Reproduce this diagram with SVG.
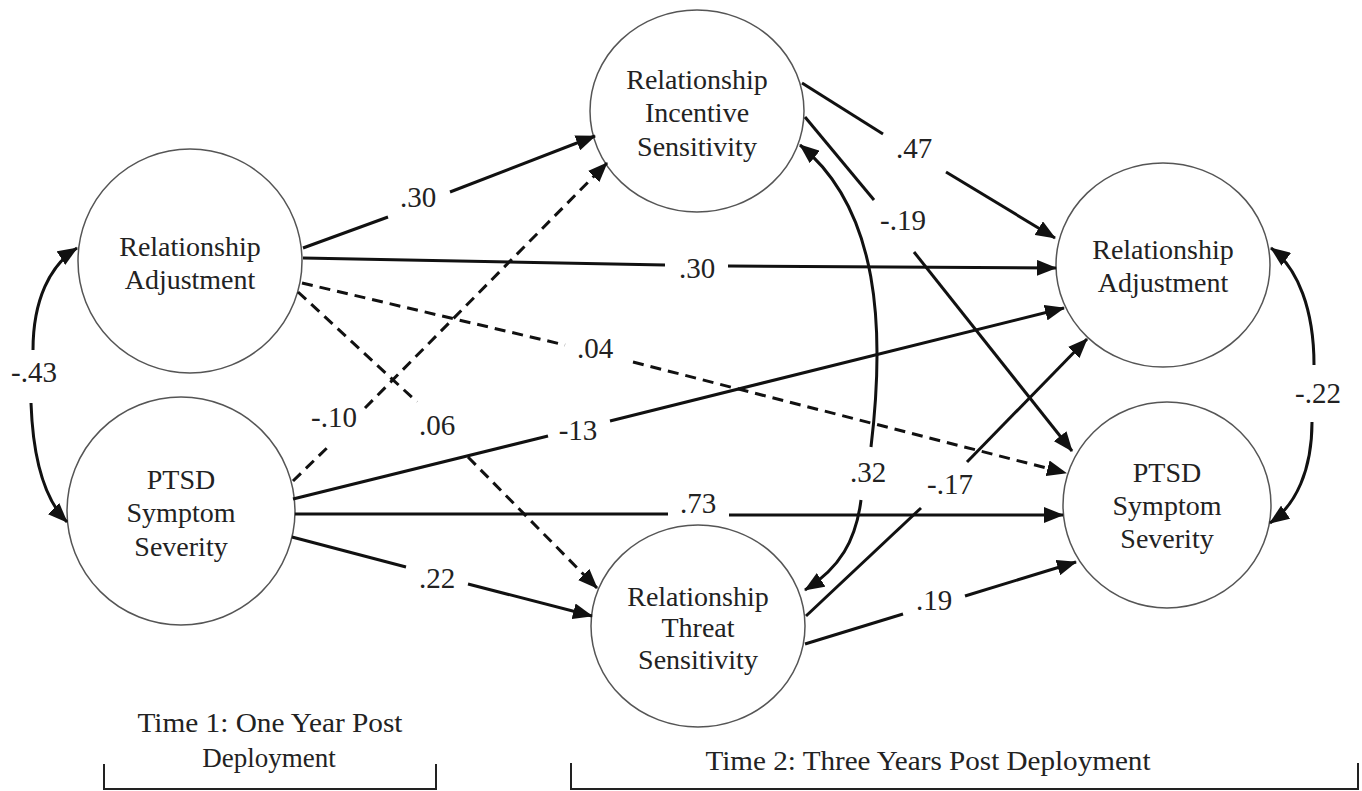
<svg xmlns="http://www.w3.org/2000/svg" width="1362" height="791" viewBox="0 0 1362 791">
<style>
.node{fill:#fff;stroke:#555;stroke-width:1.5}
.nt{font-family:"Liberation Serif","Times New Roman",serif;font-size:28px;fill:#222;text-anchor:middle}
.lb{font-family:"Liberation Serif","Times New Roman",serif;font-size:29px;fill:#222;text-anchor:middle}
.tl{font-family:"Liberation Serif","Times New Roman",serif;font-size:27px;fill:#222;text-anchor:middle}
.s{fill:none;stroke:#111;stroke-width:3}
.d{fill:none;stroke:#111;stroke-width:3;stroke-dasharray:11 7}
.a{marker-end:url(#ah)}
.br{fill:none;stroke:#222;stroke-width:2}
</style>
<defs>
<marker id="ah" markerUnits="userSpaceOnUse" markerWidth="20" markerHeight="16" viewBox="0 0 20 16" refX="19" refY="8" orient="auto">
<path d="M0,0 L20,8 L0,16 z" fill="#111"/>
</marker>
</defs>
<rect width="1362" height="791" fill="#fff"/>

<g id="t1-ra">
<circle class="node" cx="190" cy="261" r="112"/>
<text class="nt" x="190" y="256">Relationship</text>
<text class="nt" x="190" y="289">Adjustment</text>
</g>
<g id="t1-ptsd">
<circle class="node" cx="181" cy="511" r="114"/>
<text class="nt" x="181" y="489">PTSD</text>
<text class="nt" x="181" y="522">Symptom</text>
<text class="nt" x="181" y="556">Severity</text>
</g>
<g id="ris">
<ellipse class="node" cx="697" cy="111" rx="107" ry="101"/>
<text class="nt" x="697" y="89">Relationship</text>
<text class="nt" x="697" y="122">Incentive</text>
<text class="nt" x="697" y="156">Sensitivity</text>
</g>
<g id="rts">
<ellipse class="node" cx="698" cy="626" rx="107" ry="101"/>
<text class="nt" x="698" y="606">Relationship</text>
<text class="nt" x="698" y="637">Threat</text>
<text class="nt" x="698" y="669">Sensitivity</text>
</g>
<g id="t2-ra">
<ellipse class="node" cx="1163" cy="265" rx="107" ry="102"/>
<text class="nt" x="1163" y="259">Relationship</text>
<text class="nt" x="1163" y="292">Adjustment</text>
</g>
<g id="t2-ptsd">
<ellipse class="node" cx="1167" cy="505" rx="104" ry="103"/>
<text class="nt" x="1167" y="482">PTSD</text>
<text class="nt" x="1167" y="515">Symptom</text>
<text class="nt" x="1167" y="548">Severity</text>
</g>

<g id="connectors">
<path class="s" d="M303 248 L388 217"/>
<path class="s a" d="M450 192 L595 136"/>
<path class="d" d="M293 481 L330 445"/>
<path class="d a" d="M365 408 L607 163"/>
<path class="s" d="M303 258 L665 265"/>
<path class="s a" d="M728 266 L1056 268"/>
<path class="d" d="M302 283 L565 345"/>
<path class="d a" d="M633 362 L1066 473"/>
<path class="d" d="M298 292 L417 402"/>
<path class="d a" d="M468 457 L597 588"/>
<path class="s" d="M293 499 L548 436"/>
<path class="s a" d="M610 421 L1064 308"/>
<path class="s" d="M295 514 L668 514"/>
<path class="s a" d="M729 515 L1063 515"/>
<path class="s" d="M292 537 L406 567"/>
<path class="s a" d="M468 584 L592 616"/>
<path class="s" d="M802 83 L883 134"/>
<path class="s a" d="M946 172 L1055 238"/>
<path class="s" d="M805 117 L874 200"/>
<path class="s a" d="M914 252 L1072 451"/>
<path class="s" d="M806 616 L921 508"/>
<path class="s a" d="M967 462 L1087 339"/>
<path class="s" d="M805 644 L903 614"/>
<path class="s a" d="M965 596 L1076 562"/>
<path class="s a" d="M871 447 C885 330 880 210 800 145"/>
<path class="s a" d="M861 500 C856 540 840 568 805 590"/>
<path class="s a" d="M33 350 C33 300 50 265 77 248"/>
<path class="s a" d="M31 403 C33 460 45 500 67 522"/>
<path class="s a" d="M1314 365 C1314 310 1298 268 1271 248"/>
<path class="s a" d="M1312 422 C1312 470 1296 505 1270 523"/>
</g>

<g id="labels">
<text class="lb" x="418" y="207">.30</text>
<text class="lb" x="697" y="278">.30</text>
<text class="lb" x="595" y="358">.04</text>
<text class="lb" x="437" y="435">.06</text>
<text class="lb" x="334" y="427">-.10</text>
<text class="lb" x="578" y="440">-13</text>
<text class="lb" x="698" y="513">.73</text>
<text class="lb" x="437" y="588">.22</text>
<text class="lb" x="914" y="158">.47</text>
<text class="lb" x="903" y="230">-.19</text>
<text class="lb" x="868" y="482">.32</text>
<text class="lb" x="950" y="494">-.17</text>
<text class="lb" x="934" y="610">.19</text>
<text class="lb" x="34" y="382">-.43</text>
<text class="lb" x="1318" y="403">-.22</text>
</g>

<g id="time1">
<text class="tl" x="270" y="732" textLength="265" lengthAdjust="spacingAndGlyphs">Time 1: One Year Post</text>
<text class="tl" x="269" y="767">Deployment</text>
<path class="br" d="M104 764 V789 H436 V764"/>
</g>
<g id="time2">
<text class="tl" x="928" y="770" textLength="445" lengthAdjust="spacingAndGlyphs">Time 2: Three Years Post Deployment</text>
<path class="br" d="M571 763 V789 H1358 V763"/>
</g>
</svg>
